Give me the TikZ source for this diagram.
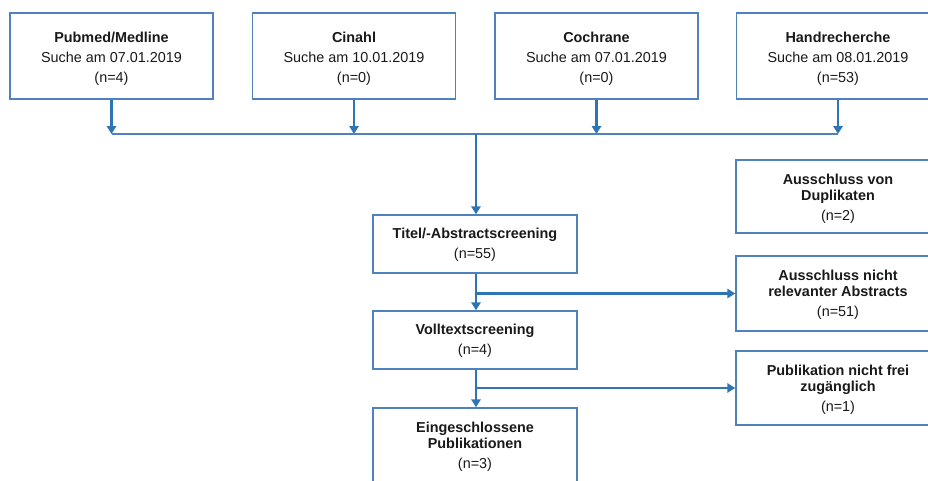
\documentclass[tikz,border=0pt]{standalone}
\usepackage{fontspec}
\setmainfont{Liberation Sans}
\usetikzlibrary{arrows.meta}
\definecolor{boxblue}{RGB}{79,129,189}
\definecolor{arrblue}{RGB}{46,117,182}
\definecolor{txt}{RGB}{25,25,25}
\newcommand{\fl}[1]{\rule{0pt}{#1}}
\begin{document}
\begin{tikzpicture}[x=0.75pt,y=-0.75pt,
  box/.style={draw=boxblue,line width=1.1pt,inner sep=0pt,align=center,text=txt,
    font=\fontsize{10.8}{12}\selectfont},
  top/.style={box,minimum width=152.5pt,minimum height=64.5pt},
  mid/.style={box,minimum width=153pt,minimum height=43.5pt},
  side/.style={box,minimum width=153pt,minimum height=55.5pt},
  arr/.style={draw=arrblue,line width=1.6pt,-{Triangle[length=6pt,width=7pt]}},
  thin/.style={draw=boxblue,line width=1.1pt}]
\useasboundingbox (0,0) rectangle (928,480);
\node[top] (p1) at (111.5,56) {\fl{12.5pt}\textbf{Pubmed/Medline}\\[3pt]Suche am 07.01.2019\\[3pt](n=4)};
\node[top] (p2) at (354,56) {\fl{12.5pt}\textbf{Cinahl}\\[3pt]Suche am 10.01.2019\\[3pt](n=0)};
\node[top] (p3) at (596.5,56) {\fl{12.5pt}\textbf{Cochrane}\\[3pt]Suche am 07.01.2019\\[3pt](n=0)};
\node[top] (p4) at (838,56) {\fl{12.5pt}\textbf{Handrecherche}\\[3pt]Suche am 08.01.2019\\[3pt](n=53)};
\node[mid] (titel) at (475,244) {\fl{9pt}\textbf{Titel/-Abstractscreening}\\[3pt](n=55)};
\node[mid] (voll) at (475,340) {\fl{9pt}\textbf{Volltextscreening}\\[3pt](n=4)};
\node[side] (ein) at (475,445) {\fl{11pt}\textbf{Eingeschlossene}\\\textbf{Publikationen}\\[3pt](n=3)};
\node[side,minimum height=54.75pt] (dup) at (838,196.5) {\fl{11.5pt}\textbf{Ausschluss von}\\\textbf{Duplikaten}\\[3pt](n=2)};
\node[side,minimum height=56.25pt] (rel) at (838,293.5) {\fl{10pt}\textbf{Ausschluss nicht}\\\textbf{relevanter Abstracts}\\[3pt](n=51)};
\node[side] (pub) at (838,388) {\fl{11pt}\textbf{Publikation nicht frei}\\\textbf{zugänglich}\\[3pt](n=1)};
\coordinate (bus) at (476,134);
\coordinate (b1) at (476,293.5);
\coordinate (b2) at (476,388);
\foreach \p in {p1,p2,p3,p4}
  \draw[arr] (\p.south) -- (\p.south |- bus);
\draw[thin] (p1.south |- bus) -- (p4.south |- bus);
\draw[arr] (bus) -- (bus |- titel.north);
\draw[arr] (bus |- titel.south) -- (bus |- voll.north);
\draw[arr] (b1) -- (rel.west);
\draw[arr] (bus |- voll.south) -- (bus |- ein.north);
\draw[arr] (b2) -- (pub.west);
\end{tikzpicture}
\end{document}
